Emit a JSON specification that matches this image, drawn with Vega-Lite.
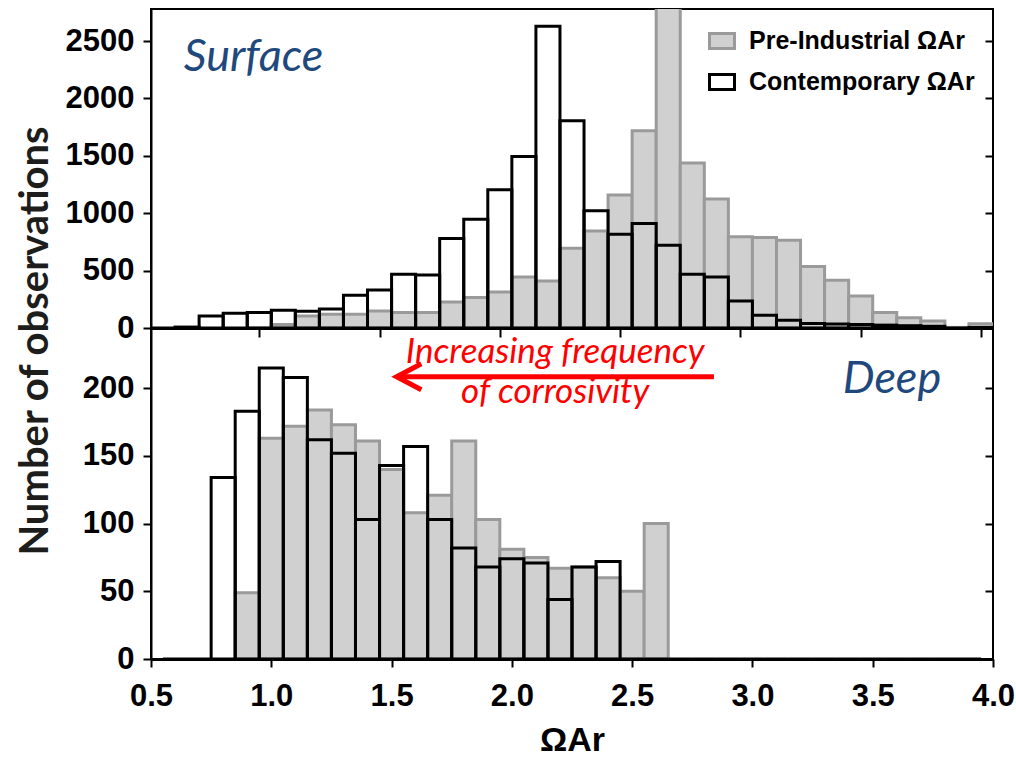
{
  "$schema": "https://vega.github.io/schema/vega-lite/v6.json",
  "padding": {"left": 16, "top": 8, "right": 10, "bottom": 5},
  "background": "white",
  "title": {"text": "Number of observations", "orient": "left", "anchor": "middle", "font": "Lato", "fontSize": 40, "fontWeight": "bold", "color": "#1d1d1b", "offset": 8, "dx": 42},
  "datasets": {
    "surface": [
      {"series": "Pre-Industrial ΩAr", "lo": 0.95, "hi": 1.05, "n": 0},
      {"series": "Pre-Industrial ΩAr", "lo": 1.05, "hi": 1.15, "n": 30},
      {"series": "Pre-Industrial ΩAr", "lo": 1.15, "hi": 1.25, "n": 105},
      {"series": "Pre-Industrial ΩAr", "lo": 1.25, "hi": 1.35, "n": 119},
      {"series": "Pre-Industrial ΩAr", "lo": 1.35, "hi": 1.45, "n": 120},
      {"series": "Pre-Industrial ΩAr", "lo": 1.45, "hi": 1.55, "n": 148},
      {"series": "Pre-Industrial ΩAr", "lo": 1.55, "hi": 1.65, "n": 134},
      {"series": "Pre-Industrial ΩAr", "lo": 1.65, "hi": 1.75, "n": 134},
      {"series": "Pre-Industrial ΩAr", "lo": 1.75, "hi": 1.85, "n": 227},
      {"series": "Pre-Industrial ΩAr", "lo": 1.85, "hi": 1.95, "n": 265},
      {"series": "Pre-Industrial ΩAr", "lo": 1.95, "hi": 2.05, "n": 314},
      {"series": "Pre-Industrial ΩAr", "lo": 2.05, "hi": 2.15, "n": 445},
      {"series": "Pre-Industrial ΩAr", "lo": 2.15, "hi": 2.25, "n": 410},
      {"series": "Pre-Industrial ΩAr", "lo": 2.25, "hi": 2.35, "n": 695},
      {"series": "Pre-Industrial ΩAr", "lo": 2.35, "hi": 2.45, "n": 846},
      {"series": "Pre-Industrial ΩAr", "lo": 2.45, "hi": 2.55, "n": 1158},
      {"series": "Pre-Industrial ΩAr", "lo": 2.55, "hi": 2.65, "n": 1719},
      {"series": "Pre-Industrial ΩAr", "lo": 2.65, "hi": 2.75, "n": 2850},
      {"series": "Pre-Industrial ΩAr", "lo": 2.75, "hi": 2.85, "n": 1437},
      {"series": "Pre-Industrial ΩAr", "lo": 2.85, "hi": 2.95, "n": 1123},
      {"series": "Pre-Industrial ΩAr", "lo": 2.95, "hi": 3.05, "n": 794},
      {"series": "Pre-Industrial ΩAr", "lo": 3.05, "hi": 3.15, "n": 788},
      {"series": "Pre-Industrial ΩAr", "lo": 3.15, "hi": 3.25, "n": 765},
      {"series": "Pre-Industrial ΩAr", "lo": 3.25, "hi": 3.35, "n": 535},
      {"series": "Pre-Industrial ΩAr", "lo": 3.35, "hi": 3.45, "n": 416},
      {"series": "Pre-Industrial ΩAr", "lo": 3.45, "hi": 3.55, "n": 279},
      {"series": "Pre-Industrial ΩAr", "lo": 3.55, "hi": 3.65, "n": 134},
      {"series": "Pre-Industrial ΩAr", "lo": 3.65, "hi": 3.75, "n": 90},
      {"series": "Pre-Industrial ΩAr", "lo": 3.75, "hi": 3.85, "n": 61},
      {"series": "Pre-Industrial ΩAr", "lo": 3.85, "hi": 3.95, "n": 5},
      {"series": "Pre-Industrial ΩAr", "lo": 3.95, "hi": 4.05, "n": 38},
      {"series": "Contemporary ΩAr", "lo": 0.55, "hi": 0.65, "n": 0},
      {"series": "Contemporary ΩAr", "lo": 0.65, "hi": 0.75, "n": 8},
      {"series": "Contemporary ΩAr", "lo": 0.75, "hi": 0.85, "n": 105},
      {"series": "Contemporary ΩAr", "lo": 0.85, "hi": 0.95, "n": 128},
      {"series": "Contemporary ΩAr", "lo": 0.95, "hi": 1.05, "n": 134},
      {"series": "Contemporary ΩAr", "lo": 1.05, "hi": 1.15, "n": 154},
      {"series": "Contemporary ΩAr", "lo": 1.15, "hi": 1.25, "n": 145},
      {"series": "Contemporary ΩAr", "lo": 1.25, "hi": 1.35, "n": 165},
      {"series": "Contemporary ΩAr", "lo": 1.35, "hi": 1.45, "n": 285},
      {"series": "Contemporary ΩAr", "lo": 1.45, "hi": 1.55, "n": 330},
      {"series": "Contemporary ΩAr", "lo": 1.55, "hi": 1.65, "n": 468},
      {"series": "Contemporary ΩAr", "lo": 1.65, "hi": 1.75, "n": 462},
      {"series": "Contemporary ΩAr", "lo": 1.75, "hi": 1.85, "n": 780},
      {"series": "Contemporary ΩAr", "lo": 1.85, "hi": 1.95, "n": 948},
      {"series": "Contemporary ΩAr", "lo": 1.95, "hi": 2.05, "n": 1204},
      {"series": "Contemporary ΩAr", "lo": 2.05, "hi": 2.15, "n": 1495},
      {"series": "Contemporary ΩAr", "lo": 2.15, "hi": 2.25, "n": 2629},
      {"series": "Contemporary ΩAr", "lo": 2.25, "hi": 2.35, "n": 1806},
      {"series": "Contemporary ΩAr", "lo": 2.35, "hi": 2.45, "n": 1021},
      {"series": "Contemporary ΩAr", "lo": 2.45, "hi": 2.55, "n": 817},
      {"series": "Contemporary ΩAr", "lo": 2.55, "hi": 2.65, "n": 910},
      {"series": "Contemporary ΩAr", "lo": 2.65, "hi": 2.75, "n": 721},
      {"series": "Contemporary ΩAr", "lo": 2.75, "hi": 2.85, "n": 468},
      {"series": "Contemporary ΩAr", "lo": 2.85, "hi": 2.95, "n": 445},
      {"series": "Contemporary ΩAr", "lo": 2.95, "hi": 3.05, "n": 236},
      {"series": "Contemporary ΩAr", "lo": 3.05, "hi": 3.15, "n": 111},
      {"series": "Contemporary ΩAr", "lo": 3.15, "hi": 3.25, "n": 67},
      {"series": "Contemporary ΩAr", "lo": 3.25, "hi": 3.35, "n": 40},
      {"series": "Contemporary ΩAr", "lo": 3.35, "hi": 3.45, "n": 35},
      {"series": "Contemporary ΩAr", "lo": 3.45, "hi": 3.55, "n": 30},
      {"series": "Contemporary ΩAr", "lo": 3.55, "hi": 3.65, "n": 25},
      {"series": "Contemporary ΩAr", "lo": 3.65, "hi": 3.75, "n": 20},
      {"series": "Contemporary ΩAr", "lo": 3.75, "hi": 3.85, "n": 15},
      {"series": "Contemporary ΩAr", "lo": 3.85, "hi": 3.95, "n": 0},
      {"series": "Contemporary ΩAr", "lo": 3.95, "hi": 4.05, "n": 5}
    ],
    "deep": [
      {"series": "Pre-Industrial ΩAr", "lo": 0.85, "hi": 0.95, "n": 49},
      {"series": "Pre-Industrial ΩAr", "lo": 0.95, "hi": 1.05, "n": 163},
      {"series": "Pre-Industrial ΩAr", "lo": 1.05, "hi": 1.15, "n": 172},
      {"series": "Pre-Industrial ΩAr", "lo": 1.15, "hi": 1.25, "n": 184},
      {"series": "Pre-Industrial ΩAr", "lo": 1.25, "hi": 1.35, "n": 173},
      {"series": "Pre-Industrial ΩAr", "lo": 1.35, "hi": 1.45, "n": 161},
      {"series": "Pre-Industrial ΩAr", "lo": 1.45, "hi": 1.55, "n": 140},
      {"series": "Pre-Industrial ΩAr", "lo": 1.55, "hi": 1.65, "n": 108},
      {"series": "Pre-Industrial ΩAr", "lo": 1.65, "hi": 1.75, "n": 121},
      {"series": "Pre-Industrial ΩAr", "lo": 1.75, "hi": 1.85, "n": 161},
      {"series": "Pre-Industrial ΩAr", "lo": 1.85, "hi": 1.95, "n": 103},
      {"series": "Pre-Industrial ΩAr", "lo": 1.95, "hi": 2.05, "n": 81},
      {"series": "Pre-Industrial ΩAr", "lo": 2.05, "hi": 2.15, "n": 75},
      {"series": "Pre-Industrial ΩAr", "lo": 2.15, "hi": 2.25, "n": 67},
      {"series": "Pre-Industrial ΩAr", "lo": 2.25, "hi": 2.35, "n": 68},
      {"series": "Pre-Industrial ΩAr", "lo": 2.35, "hi": 2.45, "n": 60},
      {"series": "Pre-Industrial ΩAr", "lo": 2.45, "hi": 2.55, "n": 50},
      {"series": "Pre-Industrial ΩAr", "lo": 2.55, "hi": 2.65, "n": 100},
      {"series": "Contemporary ΩAr", "lo": 0.55, "hi": 0.65, "n": 0},
      {"series": "Contemporary ΩAr", "lo": 0.65, "hi": 0.75, "n": 0},
      {"series": "Contemporary ΩAr", "lo": 0.75, "hi": 0.85, "n": 134},
      {"series": "Contemporary ΩAr", "lo": 0.85, "hi": 0.95, "n": 183},
      {"series": "Contemporary ΩAr", "lo": 0.95, "hi": 1.05, "n": 215},
      {"series": "Contemporary ΩAr", "lo": 1.05, "hi": 1.15, "n": 208},
      {"series": "Contemporary ΩAr", "lo": 1.15, "hi": 1.25, "n": 162},
      {"series": "Contemporary ΩAr", "lo": 1.25, "hi": 1.35, "n": 152},
      {"series": "Contemporary ΩAr", "lo": 1.35, "hi": 1.45, "n": 103},
      {"series": "Contemporary ΩAr", "lo": 1.45, "hi": 1.55, "n": 143},
      {"series": "Contemporary ΩAr", "lo": 1.55, "hi": 1.65, "n": 157},
      {"series": "Contemporary ΩAr", "lo": 1.65, "hi": 1.75, "n": 103},
      {"series": "Contemporary ΩAr", "lo": 1.75, "hi": 1.85, "n": 82},
      {"series": "Contemporary ΩAr", "lo": 1.85, "hi": 1.95, "n": 68},
      {"series": "Contemporary ΩAr", "lo": 1.95, "hi": 2.05, "n": 74},
      {"series": "Contemporary ΩAr", "lo": 2.05, "hi": 2.15, "n": 71},
      {"series": "Contemporary ΩAr", "lo": 2.15, "hi": 2.25, "n": 44},
      {"series": "Contemporary ΩAr", "lo": 2.25, "hi": 2.35, "n": 68},
      {"series": "Contemporary ΩAr", "lo": 2.35, "hi": 2.45, "n": 72},
      {"series": "Contemporary ΩAr", "lo": 2.45, "hi": 2.55, "n": 0},
      {"series": "Contemporary ΩAr", "lo": 2.55, "hi": 2.65, "n": 0},
      {"series": "Contemporary ΩAr", "lo": 2.65, "hi": 2.75, "n": 0},
      {"series": "Contemporary ΩAr", "lo": 2.75, "hi": 2.85, "n": 0},
      {"series": "Contemporary ΩAr", "lo": 2.85, "hi": 2.95, "n": 0},
      {"series": "Contemporary ΩAr", "lo": 2.95, "hi": 3.05, "n": 0},
      {"series": "Contemporary ΩAr", "lo": 3.05, "hi": 3.15, "n": 0},
      {"series": "Contemporary ΩAr", "lo": 3.15, "hi": 3.25, "n": 0},
      {"series": "Contemporary ΩAr", "lo": 3.25, "hi": 3.35, "n": 0},
      {"series": "Contemporary ΩAr", "lo": 3.35, "hi": 3.45, "n": 0},
      {"series": "Contemporary ΩAr", "lo": 3.45, "hi": 3.55, "n": 0},
      {"series": "Contemporary ΩAr", "lo": 3.55, "hi": 3.65, "n": 0},
      {"series": "Contemporary ΩAr", "lo": 3.65, "hi": 3.75, "n": 0},
      {"series": "Contemporary ΩAr", "lo": 3.75, "hi": 3.85, "n": 0},
      {"series": "Contemporary ΩAr", "lo": 3.85, "hi": 3.95, "n": 0}
    ]
  },
  "spacing": 0,
  "bounds": "flush",
  "vconcat": [
    {
      "width": 842,
      "height": 319,
      "layer": [
        {
          "data": {"name": "surface"},
          "mark": {"type": "bar", "strokeWidth": 3, "clip": true},
          "encoding": {
            "x": {"field": "lo", "type": "quantitative", "scale": {"domain": [0.55, 4.05], "nice": false, "zero": false},
                  "axis": {"values": [1, 1.5, 2, 2.5, 3, 3.5, 4], "labels": false, "title": null, "domainWidth": 3, "tickSize": 9}},
            "x2": {"field": "hi"},
            "y": {"field": "n", "type": "quantitative", "stack": null, "scale": {"domain": [0, 2779], "nice": false},
                  "axis": {"values": [0, 500, 1000, 1500, 2000, 2500], "format": "d", "title": null, "orient": "left"}},
            "y2": {"datum": 0},
            "fill": {"field": "series", "type": "nominal",
                     "scale": {"domain": ["Pre-Industrial ΩAr", "Contemporary ΩAr"], "range": ["#d0d0d0", "transparent"]},
                     "legend": {"title": null, "orient": "top-right", "offset": 18}},
            "stroke": {"field": "series", "type": "nominal",
                       "scale": {"domain": ["Pre-Industrial ΩAr", "Contemporary ΩAr"], "range": ["#9a9a9a", "#000000"]},
                       "legend": {"title": null, "orient": "top-right", "offset": 18}}
          }
        },
        {
          "data": {"values": [{"label": "Surface"}]},
          "mark": {"type": "text", "font": "Lato", "fontStyle": "italic", "fontSize": 45, "color": "#1f497d", "align": "center", "baseline": "alphabetic"},
          "encoding": {
            "x": {"datum": 0.976},
            "y": {"datum": 2239, "axis": {"orient": "right", "labels": false, "title": null, "domain": false, "tickSize": -8, "values": [0, 500, 1000, 1500, 2000, 2500]}},
            "text": {"field": "label"}
          }
        }
      ],
      "resolve": {"axis": {"y": "independent"}}
    },
    {
      "width": 842,
      "height": 331,
      "layer": [
        {
          "data": {"name": "deep"},
          "mark": {"type": "bar", "strokeWidth": 3, "clip": true},
          "encoding": {
            "x": {"field": "lo", "type": "quantitative", "scale": {"domain": [0.5, 4.0], "nice": false, "zero": false},
                  "axis": {"values": [0.5, 1, 1.5, 2, 2.5, 3, 3.5, 4], "format": ".1f", "title": "ΩAr", "domainWidth": 3}},
            "x2": {"field": "hi"},
            "y": {"field": "n", "type": "quantitative", "stack": null, "scale": {"domain": [0, 244.5], "nice": false},
                  "axis": {"values": [0, 50, 100, 150, 200], "format": "d", "title": null, "orient": "left"}},
            "y2": {"datum": 0},
            "fill": {"field": "series", "type": "nominal",
                     "scale": {"domain": ["Pre-Industrial ΩAr", "Contemporary ΩAr"], "range": ["#d0d0d0", "transparent"]}, "legend": null},
            "stroke": {"field": "series", "type": "nominal",
                       "scale": {"domain": ["Pre-Industrial ΩAr", "Contemporary ΩAr"], "range": ["#9a9a9a", "#000000"]}, "legend": null}
          }
        },
        {
          "data": {"values": [{"label": "Deep"}]},
          "mark": {"type": "text", "font": "Lato", "fontStyle": "italic", "fontSize": 45, "color": "#1f497d", "align": "center", "baseline": "alphabetic"},
          "encoding": {
            "x": {"datum": 3.58},
            "y": {"datum": 196.7, "axis": {"orient": "right", "labels": false, "title": null, "domain": false, "tickSize": -8, "values": [0, 50, 100, 150, 200]}},
            "text": {"field": "label"}
          }
        },
        {
          "data": {"values": [{"label": "Increasing frequency"}]},
          "mark": {"type": "text", "font": "Lato", "fontStyle": "italic", "fontSize": 35, "color": "#ff0000", "align": "center", "baseline": "alphabetic"},
          "encoding": {
            "x": {"datum": 2.18},
            "y": {"datum": 218.8, "axis": null},
            "text": {"field": "label"}
          }
        },
        {
          "data": {"values": [{"label": "of corrosivity"}]},
          "mark": {"type": "text", "font": "Lato", "fontStyle": "italic", "fontSize": 35, "color": "#ff0000", "align": "center", "baseline": "alphabetic"},
          "encoding": {
            "x": {"datum": 2.18},
            "y": {"datum": 189.3, "axis": null},
            "text": {"field": "label"}
          }
        },
        {
          "data": {"values": [{"label": "arrow"}]},
          "mark": {"type": "rule", "color": "#ff0000", "strokeWidth": 5},
          "encoding": {
            "x": {"datum": 1.53},
            "x2": {"datum": 2.84},
            "y": {"datum": 208.5, "axis": null}
          }
        },
        {
          "data": {"values": [{"label": "arrowhead"}]},
          "mark": {"type": "point", "shape": "M0.9,-1L-1,0L0.9,1", "filled": false, "stroke": "#ff0000", "strokeWidth": 5, "size": 676, "opacity": 1},
          "encoding": {
            "x": {"datum": 1.575},
            "y": {"datum": 208.5, "axis": null}
          }
        }
      ],
      "resolve": {"axis": {"y": "independent"}}
    }
  ],
  "resolve": {"scale": {"x": "independent", "fill": "independent", "stroke": "independent"}, "legend": {"fill": "independent", "stroke": "independent"}},
  "config": {
    "view": {"stroke": "black", "strokeWidth": 2},
    "axis": {
      "grid": false,
      "labelFlush": false,
      "domainColor": "black",
      "domainWidth": 2,
      "tickColor": "black",
      "tickWidth": 2,
      "tickSize": 8,
      "labelFont": "Liberation Sans",
      "labelFontWeight": "bold",
      "labelFontSize": 31,
      "labelColor": "black",
      "labelPadding": 9,
      "titleFont": "Liberation Sans",
      "titleFontWeight": "bold",
      "titleFontSize": 34,
      "titleColor": "black",
      "titlePadding": 12
    },
    "axisBottom": {"labelPadding": 14},
    "legend": {
      "symbolType": "M-1,-0.6H1V0.6H-1Z",
      "symbolSize": 625,
      "symbolStrokeWidth": 3,
      "labelFont": "Liberation Sans",
      "labelFontWeight": "bold",
      "labelFontSize": 25,
      "labelColor": "black",
      "labelOffset": 13,
      "rowPadding": 13,
      "labelLimit": 400
    }
  }
}
